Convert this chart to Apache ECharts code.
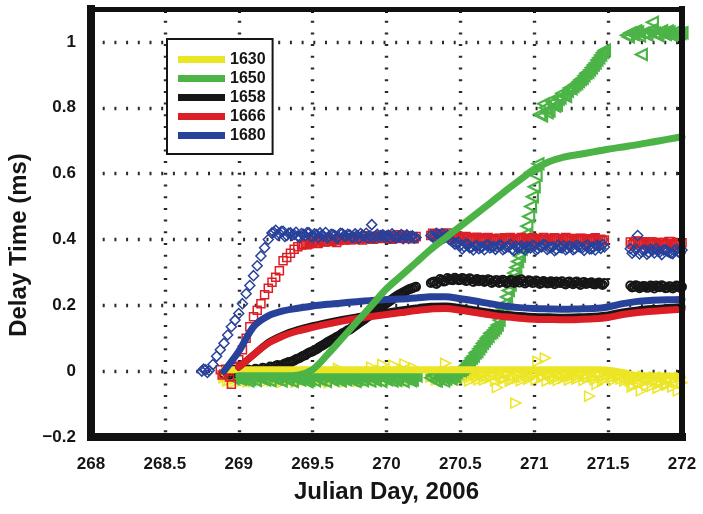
<!DOCTYPE html>
<html><head><meta charset="utf-8">
<script src="https://cdn.jsdelivr.net/npm/echarts@6/dist/echarts.min.js"></script>
<style>html,body{margin:0;padding:0;background:#fff}#c{width:703px;height:514px}</style>
</head><body><div id="c"></div>
<script>
// ---- sample times for scatter data (Julian day) ----
const times = [
268.750,268.775,268.800,268.825,268.850,268.875,268.900,268.925,268.950,268.975,
269.000,269.025,269.050,269.075,269.100,269.125,269.150,269.175,269.200,269.225,
269.250,269.275,269.300,269.325,269.350,269.375,269.400,269.425,269.450,269.475,
269.500,269.525,269.550,269.575,269.600,269.625,269.650,269.675,269.700,269.725,
269.750,269.775,269.800,269.825,269.850,269.875,269.900,269.925,269.950,269.975,
270.000,270.025,270.050,270.075,270.100,270.125,270.150,270.175,270.200,270.225,
270.250,270.275,270.300,270.325,270.350,270.375,270.400,270.425,270.450,270.475,
270.500,270.525,270.550,270.575,270.600,270.625,270.650,270.675,270.700,270.725,
270.750,270.775,270.800,270.825,270.850,270.875,270.900,270.925,270.950,270.975,
271.000,271.025,271.050,271.075,271.100,271.125,271.150,271.175,271.200,271.225,
271.250,271.275,271.300,271.325,271.350,271.375,271.400,271.425,271.450,271.475,
271.500,271.525,271.550,271.575,271.600,271.625,271.650,271.675,271.700,271.725,
271.750,271.775,271.800,271.825,271.850,271.875,271.900,271.925,271.950,271.975,
272.000];
// second, interleaved set of sample times
const times2 = [
268.7625,268.7875,268.8125,268.8375,268.8625,268.8875,268.9125,268.9375,268.9625,268.9875,
269.0125,269.0375,269.0625,269.0875,269.1125,269.1375,269.1625,269.1875,269.2125,269.2375,
269.2625,269.2875,269.3125,269.3375,269.3625,269.3875,269.4125,269.4375,269.4625,269.4875,
269.5125,269.5375,269.5625,269.5875,269.6125,269.6375,269.6625,269.6875,269.7125,269.7375,
269.7625,269.7875,269.8125,269.8375,269.8625,269.8875,269.9125,269.9375,269.9625,269.9875,
270.0125,270.0375,270.0625,270.0875,270.1125,270.1375,270.1625,270.1875,270.2125,270.2375,
270.2625,270.2875,270.3125,270.3375,270.3625,270.3875,270.4125,270.4375,270.4625,270.4875,
270.5125,270.5375,270.5625,270.5875,270.6125,270.6375,270.6625,270.6875,270.7125,270.7375,
270.7625,270.7875,270.8125,270.8375,270.8625,270.8875,270.9125,270.9375,270.9625,270.9875,
271.0125,271.0375,271.0625,271.0875,271.1125,271.1375,271.1625,271.1875,271.2125,271.2375,
271.2625,271.2875,271.3125,271.3375,271.3625,271.3875,271.4125,271.4375,271.4625,271.4875,
271.5125,271.5375,271.5625,271.5875,271.6125,271.6375,271.6625,271.6875,271.7125,271.7375,
271.7625,271.7875,271.8125,271.8375,271.8625,271.8875,271.9125,271.9375,271.9625,271.9875];

const pts1630 = [
null,null,null,null,null,null,-0.020,-0.030,-0.010,-0.025,
-0.015,-0.030,-0.005,-0.022,-0.032,-0.012,-0.026,0.005,-0.018,-0.030,
-0.008,-0.024,-0.033,-0.014,-0.028,0.000,-0.020,-0.031,-0.010,-0.026,
-0.016,-0.034,-0.006,-0.022,-0.029,-0.012,-0.025,0.008,-0.019,-0.032,
-0.011,-0.027,-0.003,-0.021,-0.033,-0.009,0.012,-0.024,-0.015,0.020,
-0.028,-0.006,0.018,-0.022,-0.013,0.022,-0.030,-0.008,-0.019,null,
null,null,-0.018,-0.008,-0.025,-0.012,0.024,-0.020,-0.006,-0.016,
-0.010,-0.022,-0.004,-0.018,-0.012,-0.026,-0.008,-0.016,-0.021,-0.005,
-0.050,-0.014,-0.020,-0.008,-0.024,-0.097,-0.011,-0.019,-0.006,-0.017,
-0.012,0.030,-0.020,0.040,-0.009,-0.018,-0.004,-0.015,-0.022,-0.007,
-0.016,-0.010,-0.021,-0.005,-0.014,-0.076,-0.019,-0.040,-0.008,-0.015,
-0.012,-0.020,-0.006,-0.017,-0.010,-0.022,-0.030,-0.040,-0.025,-0.060,
-0.032,-0.020,-0.045,-0.028,-0.038,-0.018,-0.042,-0.030,-0.024,-0.060,
-0.035];
const pts1630b = [
null,null,null,null,null,null,-0.012,-0.028,-0.035,-0.006,
-0.024,-0.010,-0.033,-0.018,-0.004,-0.027,-0.014,-0.031,-0.008,-0.022,
-0.029,-0.016,-0.003,-0.026,-0.012,-0.034,-0.021,-0.007,-0.028,-0.015,
-0.030,-0.004,-0.024,-0.013,-0.035,-0.009,-0.020,-0.028,-0.006,-0.018,
-0.025,-0.014,-0.031,-0.005,-0.019,-0.027,-0.011,-0.030,0.002,-0.022,
-0.012,-0.026,-0.004,-0.031,0.006,-0.018,-0.024,0.010,null,null,
null,null,-0.004,-0.026,-0.015,-0.030,-0.009,-0.022,-0.028,-0.003,
-0.024,-0.014,-0.030,-0.008,-0.020,-0.011,-0.027,-0.004,-0.015,-0.029,
-0.012,-0.026,-0.006,-0.031,-0.015,-0.022,-0.029,-0.004,-0.025,-0.010,
-0.026,-0.005,-0.017,-0.030,-0.012,-0.024,-0.028,-0.008,-0.014,-0.027,
-0.006,-0.024,-0.011,-0.028,-0.018,-0.003,-0.026,-0.013,-0.029,-0.021,
-0.005,-0.028,-0.016,-0.024,-0.030,-0.014,-0.048,-0.022,-0.038,-0.015,
-0.044,-0.026,-0.018,-0.052,-0.030,-0.040,-0.024,-0.048,-0.034,-0.020];

const pts1650 = [
null,null,null,null,null,null,null,null,-0.012,-0.018,
-0.015,-0.022,-0.010,-0.025,-0.016,-0.008,-0.020,-0.027,-0.012,-0.019,
-0.024,-0.011,-0.018,-0.026,-0.014,-0.021,-0.009,-0.023,-0.017,-0.028,
-0.013,-0.020,-0.026,-0.010,-0.018,-0.024,-0.015,-0.022,-0.011,-0.027,
-0.019,-0.012,-0.025,-0.016,-0.023,-0.010,-0.021,-0.028,-0.014,-0.020,
-0.026,-0.013,-0.019,-0.024,-0.011,-0.022,-0.017,-0.027,-0.015,null,
null,null,-0.020,-0.028,-0.022,-0.018,-0.024,-0.015,-0.010,-0.004,
0.002,0.012,0.025,0.040,0.055,0.068,0.085,0.100,0.115,0.125,
0.140,0.175,0.205,0.245,0.280,0.315,0.350,0.390,0.440,0.500,
0.560,0.630,0.775,0.800,0.790,0.815,0.808,0.830,0.838,0.850,
0.858,0.870,0.880,0.890,0.905,0.915,0.930,0.945,0.960,0.975,
null,null,null,null,null,1.020,1.028,1.022,1.030,0.962,
1.025,1.032,1.060,1.024,1.030,1.026,1.033,1.022,1.029,1.025,
1.028];
const pts1650b = [
null,null,null,null,null,null,null,null,-0.022,-0.008,
-0.025,-0.006,-0.030,-0.013,-0.028,-0.020,-0.007,-0.014,-0.029,-0.009,
-0.017,-0.030,-0.005,-0.021,-0.031,-0.008,-0.027,-0.013,-0.032,-0.006,
-0.029,-0.007,-0.016,-0.031,-0.006,-0.028,-0.012,-0.030,-0.020,-0.008,
-0.027,-0.031,-0.007,-0.029,-0.008,-0.030,-0.013,-0.006,-0.031,-0.011,
-0.008,-0.030,-0.028,-0.006,-0.031,-0.009,-0.029,-0.010,null,null,
null,null,-0.012,-0.030,-0.014,-0.030,-0.010,-0.024,-0.018,0.003,
0.006,0.018,0.032,0.046,0.060,0.076,0.092,0.106,0.118,0.132,
0.155,0.190,0.225,0.262,0.298,0.333,0.370,0.415,0.470,0.530,
0.595,0.780,0.812,0.785,0.822,0.805,0.826,0.844,0.834,0.860,
0.865,0.874,0.886,0.897,0.908,0.922,0.936,0.952,0.968,null,
null,null,null,null,null,1.015,1.024,1.034,1.018,1.027,
1.021,1.035,1.027,1.019,1.034,1.023,1.030,1.018,1.033,1.026];

const pts1658 = [
null,null,null,null,null,null,-0.008,-0.005,0.000,-0.006,
-0.004,0.002,-0.003,0.003,0.000,0.005,0.002,0.008,0.006,0.012,
0.016,0.014,0.020,0.024,0.026,0.032,0.038,0.044,0.048,0.056,
0.060,0.066,0.074,0.080,0.088,0.094,0.100,0.106,0.114,0.120,
0.126,0.134,0.142,0.150,0.158,0.166,0.174,0.182,0.190,0.198,
0.206,0.214,0.222,0.230,0.236,0.242,0.248,0.252,0.256,null,
null,null,0.268,0.272,0.270,0.276,0.274,0.279,0.276,0.280,
0.277,0.281,0.275,0.279,0.276,0.273,0.278,0.274,0.277,0.272,
0.276,0.271,0.274,0.270,0.275,0.272,0.269,0.273,0.270,0.274,
0.269,0.272,0.268,0.271,0.267,0.270,0.272,0.268,0.266,0.270,
0.267,0.270,0.266,0.269,0.265,0.268,0.264,0.267,0.265,0.268,
null,null,null,null,null,null,0.260,0.256,0.259,0.255,
0.258,0.254,0.257,0.260,0.255,0.258,0.253,0.257,0.255,0.259,
0.256];
const pts1658b = [
null,null,null,null,null,null,null,-0.010,0.004,-0.002,
0.003,-0.006,0.005,-0.002,0.007,0.001,0.010,0.004,0.014,0.009,
0.019,0.013,0.023,0.028,0.030,0.036,0.040,0.047,0.053,0.058,
0.064,0.070,0.077,0.084,0.091,0.097,0.104,0.110,0.117,0.124,
0.130,0.138,0.146,0.154,0.162,0.170,0.178,0.186,0.194,0.202,
0.210,0.218,0.226,0.233,0.239,0.245,0.250,0.254,null,null,
null,null,0.271,0.265,0.280,0.272,0.283,0.277,0.284,0.276,
0.283,0.274,0.282,0.271,0.280,0.277,0.271,0.279,0.268,0.276,
0.268,0.278,0.267,0.277,0.268,0.276,0.279,0.266,0.276,0.268,
0.275,0.265,0.274,0.266,0.273,0.264,0.269,0.273,0.263,0.272,
0.264,0.272,0.262,0.271,0.266,0.270,0.263,0.269,0.262,null,
null,null,null,null,null,null,0.254,0.261,0.252,0.259,
0.253,0.260,0.251,0.256,0.261,0.252,0.258,0.251,0.260,0.253];

const pts1666 = [
null,null,null,null,null,0.004,-0.008,0.000,-0.040,0.015,
0.035,0.065,0.100,0.135,0.165,0.185,0.205,0.232,0.252,0.270,
0.285,0.305,0.335,0.345,0.358,0.370,0.378,0.383,0.388,0.386,
0.392,0.389,0.396,0.393,0.398,0.394,0.400,0.397,0.403,0.399,
0.404,0.400,0.406,0.402,0.408,0.403,0.405,0.410,0.404,0.408,
0.405,0.410,0.404,0.409,0.412,0.406,0.410,0.405,0.409,null,
null,null,0.412,0.416,0.410,0.418,0.413,0.408,0.412,0.405,
0.408,0.403,0.406,0.400,0.404,0.398,0.402,0.405,0.399,0.403,
0.398,0.402,0.405,0.399,0.403,0.397,0.401,0.404,0.398,0.402,
0.399,0.403,0.397,0.401,0.404,0.398,0.402,0.396,0.400,0.403,
0.397,0.401,0.398,0.403,0.396,0.400,0.402,0.397,0.401,0.398,
null,null,null,null,null,null,0.392,0.388,0.394,0.386,
0.390,0.386,0.392,0.388,0.384,0.391,0.387,0.393,0.385,0.389,
0.390];
const pts1666b = [
null,null,null,null,null,-0.012,0.006,-0.018,null,null,
null,null,null,null,null,null,null,null,null,null,
null,null,null,null,null,null,null,0.385,0.384,0.390,
0.395,0.388,0.399,0.392,0.401,0.396,0.391,0.402,0.398,0.405,
0.399,0.409,0.402,0.398,0.411,0.406,0.401,0.409,0.413,0.403,
0.411,0.401,0.407,0.414,0.403,0.411,0.407,0.402,null,null,
null,null,0.419,0.409,0.415,0.411,0.420,0.406,0.414,0.401,
0.406,0.409,0.397,0.403,0.407,0.401,0.396,0.406,0.402,0.397,
0.404,0.396,0.400,0.406,0.395,0.402,0.406,0.399,0.395,0.405,
0.396,0.401,0.406,0.395,0.399,0.405,0.397,0.403,0.406,0.395,
0.403,0.396,0.404,0.399,0.402,0.395,0.405,0.399,0.396,null,
null,null,null,null,null,null,0.385,0.395,0.389,0.393,
0.384,0.393,0.387,0.382,0.391,0.386,0.394,0.383,0.390,0.387];

const pts1680 = [
0.000,0.004,0.002,0.020,0.045,0.065,0.085,0.110,0.135,0.155,
0.175,0.205,0.235,0.260,0.290,0.320,0.350,0.375,0.400,0.420,
0.428,0.418,0.425,0.412,0.420,0.415,0.410,0.418,0.412,0.420,
0.408,0.415,0.420,0.410,0.405,0.416,0.412,0.408,0.418,0.410,
0.414,0.406,0.412,0.418,0.410,0.404,0.445,0.410,0.406,0.414,
0.410,0.404,0.412,0.406,0.415,0.408,0.403,0.411,0.406,null,
null,null,0.412,0.405,0.415,0.418,0.408,0.400,0.392,0.388,
0.382,0.378,0.385,0.376,0.380,0.372,0.378,0.383,0.374,0.379,
0.376,0.382,0.373,0.378,0.370,0.380,0.376,0.372,0.379,0.374,
0.380,0.372,0.377,0.383,0.374,0.378,0.370,0.376,0.381,0.373,
0.378,0.372,0.379,0.374,0.380,0.371,0.376,0.382,0.373,0.377,
null,null,null,null,null,null,0.372,0.364,0.412,0.362,
0.368,0.360,0.366,0.372,0.362,0.368,0.364,0.358,0.366,0.362,
0.368];
const pts1680b = [
0.006,-0.004,null,null,null,null,null,null,null,null,
null,null,null,null,null,null,null,null,null,0.422,
0.414,0.424,0.409,0.419,0.413,0.422,0.407,0.416,0.421,0.409,
0.417,0.406,0.413,0.421,0.409,0.415,0.404,0.419,0.411,0.416,
0.408,0.417,0.403,0.413,0.419,0.411,0.405,0.416,0.412,0.407,
0.413,0.417,0.405,0.410,0.402,0.414,0.409,0.404,null,null,
null,null,0.408,0.419,0.411,0.404,0.414,0.396,0.386,0.392,
0.371,0.386,0.375,0.368,0.381,0.376,0.369,0.384,0.377,0.370,
0.383,0.369,0.377,0.385,0.367,0.374,0.381,0.368,0.376,0.384,
0.368,0.379,0.385,0.370,0.376,0.366,0.383,0.374,0.369,0.380,
0.369,0.383,0.376,0.367,0.384,0.372,0.368,0.379,0.385,null,
null,null,null,null,null,null,0.358,0.370,0.356,0.367,
0.355,0.371,0.359,0.365,0.354,0.369,0.361,0.357,0.370,0.359];

// ---- model curves (thick lines) ----
const lineTimes = [268.75,268.9,269.0,269.1,269.2,269.3,269.4,269.5,269.6,269.7,269.8,269.9,
270.0,270.1,270.2,270.3,270.4,270.5,270.6,270.7,270.8,270.9,271.0,271.1,271.2,271.3,271.4,
271.5,271.6,271.7,271.8,271.9,272.0];
const fit1630 = [null,0.004,0.004,0.004,0.004,0.004,0.004,0.004,0.004,0.004,0.004,0.004,
0.004,0.004,0.004,0.004,0.004,0.004,0.004,0.004,0.004,0.004,0.004,0.004,0.004,0.004,0.004,
0.003,-0.004,-0.014,-0.015,-0.015,-0.015];
const fit1650 = [null,null,-0.014,-0.014,-0.014,-0.014,-0.012,0.005,0.050,0.100,0.150,0.200,
0.250,0.290,0.330,0.370,0.405,0.440,0.475,0.510,0.546,0.580,0.613,0.636,0.650,0.658,0.666,
0.674,0.681,0.688,0.696,0.704,0.712];
const fit1658 = [null,null,0.012,0.050,0.087,0.110,0.126,0.138,0.148,0.157,0.165,0.172,
0.179,0.186,0.192,0.197,0.198,0.193,0.186,0.179,0.173,0.169,0.166,0.165,0.164,0.165,0.167,
0.171,0.180,0.186,0.190,0.193,0.196];
const fit1666 = [null,null,0.012,0.050,0.085,0.107,0.122,0.133,0.143,0.152,0.160,0.166,
0.172,0.178,0.184,0.189,0.190,0.185,0.178,0.171,0.165,0.161,0.158,0.157,0.156,0.157,0.159,
0.163,0.172,0.178,0.182,0.185,0.188];
const fit1680 = [null,0.000,0.060,0.135,0.168,0.183,0.191,0.198,0.203,0.207,0.211,0.215,
0.218,0.219,0.222,0.226,0.226,0.220,0.213,0.205,0.198,0.193,0.190,0.189,0.188,0.189,0.190,
0.195,0.205,0.212,0.215,0.217,0.218];

const names = ['1630','1650','1658','1666','1680'];
const colors = {'1630':'#ece523','1650':'#4cb447','1658':'#161616','1666':'#dc1f26','1680':'#28419a'};
const xTicks = {min:268, max:272, step:0.5};
const yTicks = {min:-0.2, max:1.1, step:0.2};

function pairs(xs, ys){
  const out=[];
  for(let i=0;i<xs.length;i++){ if(ys[i]!==null) out.push([xs[i], ys[i]]); }
  return out;
}

const FONT = "'Liberation Sans', Arial, Helvetica, sans-serif";

function lineSeries(name, vals){
  return {type:'line', name:name, data:pairs(lineTimes, vals), showSymbol:false, symbol:'none',
    smooth:0.3, clip:true, silent:true,
    lineStyle:{color:colors[name], width:7, cap:'round', join:'round'},
    itemStyle:{color:colors[name]}};
}
function scatterSeries(name, xs, vals, symbol, size, rot, bw){
  return {type:'scatter', name:name, data:pairs(xs, vals), symbol:symbol, symbolSize:size,
    symbolRotate:rot, clip:true, silent:true,
    itemStyle:{color:'rgba(0,0,0,0)', borderColor:colors[name], borderWidth:bw, opacity:1}};
}

const chart = echarts.init(document.getElementById('c'), null, {renderer:'canvas'});
const axisFont = {fontFamily:FONT, fontWeight:'bold', fontSize:17, color:'#151515'};
const gridDots = {show:true, lineStyle:{color:'#2a2a2a', width:3.4, type:[2, 9.7]}};

chart.setOption({
  animation:false,
  backgroundColor:'#ffffff',
  grid:{left:91, right:21, top:9, bottom:77, containLabel:false, outerBoundsMode:'none'},
  legend:{
    orient:'vertical', left:167, top:39, padding:[11,7,9,11],
    itemWidth:47, itemHeight:7, itemGap:0, selectedMode:false,
    backgroundColor:'#ffffff', borderColor:'#151515', borderWidth:2,
    textStyle:{fontFamily:FONT, fontWeight:'bold', fontSize:16, color:'#151515', lineHeight:19},
    data:names.map(n=>({name:n, icon:'rect', itemStyle:{color:colors[n], borderWidth:0}}))
  },
  xAxis:[
    {type:'value', position:'bottom', min:xTicks.min, max:xTicks.max, interval:xTicks.step,
     name:'Julian Day, 2006', nameLocation:'middle', nameGap:43,
     nameTextStyle:{fontFamily:FONT, fontWeight:'bold', fontSize:24, color:'#151515'},
     axisLine:{show:true, onZero:false, lineStyle:{color:'#111', width:8, cap:'square'}},
     axisTick:{show:true, inside:true, length:4, lineStyle:{color:'#111', width:3}},
     axisLabel:{show:true, margin:19, ...axisFont},
     splitLine:gridDots},
    {type:'value', position:'top', min:xTicks.min, max:xTicks.max, interval:xTicks.step, z:10,
     axisLine:{show:true, onZero:false, lineStyle:{color:'#111', width:5, cap:'square'}},
     axisTick:{show:true, inside:true, length:4, lineStyle:{color:'#111', width:3}},
     axisLabel:{show:false}, splitLine:{show:false}}
  ],
  yAxis:[
    {type:'value', position:'left', min:yTicks.min, max:yTicks.max, interval:yTicks.step,
     name:'Delay Time (ms)', nameLocation:'middle', nameRotate:90, nameGap:48,
     nameTextStyle:{fontFamily:FONT, fontWeight:'bold', fontSize:24, color:'#151515', padding:[0,44,0,0]},
     axisLine:{show:true, onZero:false, lineStyle:{color:'#111', width:8, cap:'square'}},
     axisTick:{show:true, inside:true, length:4, lineStyle:{color:'#111', width:3}},
     axisLabel:{show:true, margin:15, showMaxLabel:false, ...axisFont,
       formatter:function(v){ const n=Number(v.toFixed(2)); return n<0 ? '\u2212'+(-n) : String(n); }},
     splitLine:gridDots},
    {type:'value', position:'right', min:yTicks.min, max:yTicks.max, interval:yTicks.step, z:10,
     axisLine:{show:true, onZero:false, lineStyle:{color:'#111', width:6, cap:'square'}},
     axisTick:{show:true, inside:true, length:4, lineStyle:{color:'#111', width:3}},
     axisLabel:{show:false}, splitLine:{show:false}}
  ],
  series:[
    lineSeries('1630', fit1630),
    lineSeries('1658', fit1658),
    lineSeries('1666', fit1666),
    lineSeries('1680', fit1680),
    scatterSeries('1630', times, pts1630, 'triangle', 10, -90, 1.5),
    scatterSeries('1630', times2, pts1630b, 'triangle', 10, -90, 1.5),
    scatterSeries('1650', times, pts1650, 'triangle', 11, 90, 2.2),
    scatterSeries('1650', times2, pts1650b, 'triangle', 11, 90, 2.2),
    scatterSeries('1658', times, pts1658, 'circle', 8, 0, 2),
    scatterSeries('1658', times2, pts1658b, 'circle', 8, 0, 2),
    scatterSeries('1666', times, pts1666, 'rect', 8, 0, 1.5),
    scatterSeries('1666', times2, pts1666b, 'rect', 8, 0, 1.5),
    scatterSeries('1680', times, pts1680, 'diamond', 10, 0, 1.5),
    scatterSeries('1680', times2, pts1680b, 'diamond', 10, 0, 1.5),
    lineSeries('1650', fit1650)
  ]
});
</script></body></html>
